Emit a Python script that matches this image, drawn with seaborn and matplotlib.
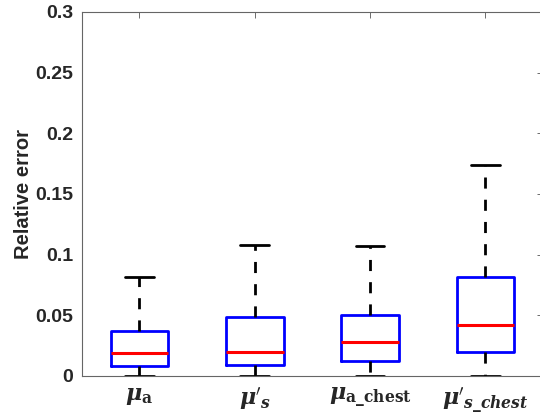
import numpy as np
import pandas as pd
import matplotlib
matplotlib.use('Agg')
import matplotlib.pyplot as plt
import seaborn as sns

# five-number summaries: min, q1, median, q3, max
labels = [r'$\mathbfit{\mu}_{\mathbf{a}}$',
          r"$\mathbfit{\mu}'_{\mathbfit{s}}$",
          r'$\mathbfit{\mu}_{\mathbf{a\_chest}}$',
          r"$\mathbfit{\mu}'_{\mathbfit{s\_chest}}$"]
mu_a = [0.0, 0.0085, 0.0187, 0.0373, 0.0812]
mu_s = [0.0, 0.0090, 0.0200, 0.0490, 0.1080]
mu_a_chest = [0.0, 0.0124, 0.0278, 0.0504, 0.1070]
mu_s_chest = [0.0, 0.0196, 0.0419, 0.0812, 0.1736]
yticks = [0, 0.05, 0.1, 0.15, 0.2, 0.25, 0.3]
yticklabels = ['0', '0.05', '0.1', '0.15', '0.2', '0.25', '0.3']

df = pd.DataFrame({
    'group': np.repeat(labels, 5),
    'err': mu_a + mu_s + mu_a_chest + mu_s_chest,
})

sns.set_style('white')
plt.rcParams['font.family'] = ['Liberation Sans', 'DejaVu Sans']
plt.rcParams['mathtext.fontset'] = 'dejavuserif'

fig = plt.figure(figsize=(5.4, 4.18), dpi=100)
ax = fig.add_axes([81.7 / 540, 42 / 418, 461.3 / 540, 364 / 418])

sns.boxplot(data=df, x='group', y='err', order=labels, ax=ax,
            whis=(0, 100), width=0.5, fill=False, color='blue',
            linewidth=2, showfliers=False,
            boxprops=dict(color='blue', linewidth=2),
            medianprops=dict(color='red', linewidth=2.2),
            whiskerprops=dict(color='black', linewidth=2, linestyle=(0, (4, 4))),
            capprops=dict(color='black', linewidth=2))

ax.set_xlim(-0.5, 3.5)
ax.set_ylim(0, 0.3)
ax.set_yticks(yticks)
ax.set_yticklabels(yticklabels, fontsize=14, fontweight='bold')
ax.set_xticks(range(len(labels)))
ax.set_xticklabels(labels, fontsize=16)
ax.set_xlabel('')
ax.set_ylabel('Relative error', fontsize=14.5, fontweight='bold', labelpad=2)
ax.tick_params(direction='in', length=4, width=0.6, color='#555555',
               top=True, right=True, pad=6)
ax.tick_params(axis='x', pad=7)
for s in ax.spines.values():
    s.set_color('#666666')
    s.set_linewidth(0.8)

fig.savefig('out.png', dpi=100)
